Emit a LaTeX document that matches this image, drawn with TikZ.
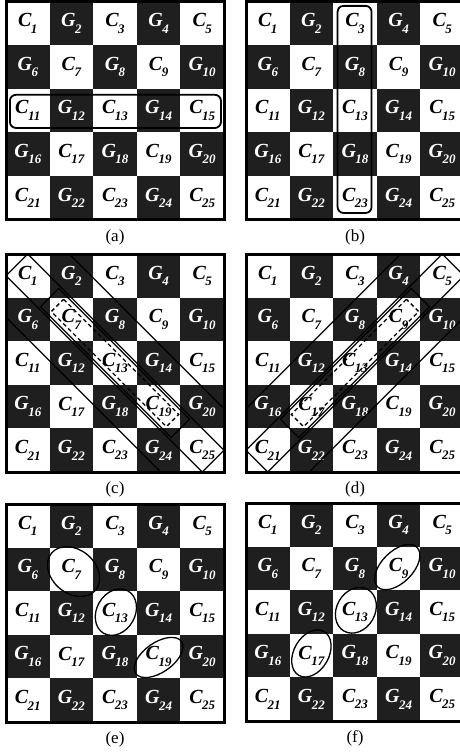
\documentclass[tikz,border=0pt]{standalone}
\usepackage{fontspec}
\setmainfont{Liberation Serif}
\newcommand\cellname[2]{{\bfseries\itshape #1\kern-.5pt\raisebox{-.32em}{\fontsize{13}{13}\selectfont #2}}}

\begin{document}
\begin{tikzpicture}[x=1pt, y=-1pt,
  every node/.style={font=\fontsize{20}{20}\selectfont, inner sep=0pt},
  gcell/.style={fill=black!88},
  clab/.style={text=black},
  glab/.style={text=white},
  boardframe/.style={draw=black, line width=3pt},
  ring/.style={draw=black, line width=1.3pt},
  dashring/.style={draw=black, line width=1.3pt, dash pattern=on 4pt off 3pt},
  box/.style={draw=black, line width=1.8pt, rounded corners=6pt},
  panel a/.style={shift={(6,1.5)}, x=43.6pt, y=-43.6pt},
  panel b/.style={shift={(246,1.5)}, x=43.6pt, y=-43.6pt},
  panel c/.style={shift={(6,254)}, x=43.6pt, y=-43.6pt},
  panel d/.style={shift={(246,254)}, x=43.6pt, y=-43.6pt},
  panel e/.style={shift={(6,504)}, x=43.6pt, y=-43.6pt},
  panel f/.style={shift={(246,503)}, x=43.6pt, y=-43.6pt}]
\useasboundingbox (0,0) rectangle (460,753);

% the six 5x5 boards
\foreach \p in {a,b,c,d,e,f}{
  \begin{scope}[panel \p]
  \foreach \r in {0,...,4}{
    \foreach \c in {0,...,4}{
      \pgfmathtruncatemacro\k{5*\r+\c+1}
      \pgfmathtruncatemacro\odd{mod(\r+\c,2)}
      \ifnum\odd=1
        \fill[gcell] (\c,\r) rectangle ++(1,1);
        \node[glab] (\p\k) at (\c+.5,\r+.5) {\cellname{G}{\k}};
      \else
        \node[clab] (\p\k) at (\c+.5,\r+.5) {\cellname{C}{\k}};
      \fi
    }
  }
  \draw[boardframe] (0,0) rectangle (5,5);
  \node[font=\fontsize{17}{17}\selectfont] (cap\p) at (2.5,5.4) {(\p)};
  \end{scope}
}

% (a) row, (b) column
\begin{scope}[panel a]
\draw[box] (0.09,2.14) rectangle (4.93,2.9);
\end{scope}
\begin{scope}[panel b]
\draw[box] (2.1,0.1) rectangle (2.88,4.85);
\end{scope}

% (c) main diagonal
\begin{scope}[panel c]
\draw[ring] (0.5,0) -- (5,4.5) -- (4.5,5) -- (0,0.5) -- cycle;
\draw[ring] (1.21,0.79) -- (4.21,3.79) -- (3.79,4.21) -- (0.79,1.21) -- cycle;
\draw[dashring] (1.32,1.04) -- (3.96,3.68) -- (3.68,3.96) -- (1.04,1.32) -- cycle;
\draw[ring] (1.45,0) -- (5,3.55);
\draw[ring] (0,1.45) -- (3.55,5);
\end{scope}

% (d) anti-diagonal
\begin{scope}[panel d]
\draw[ring] (4.5,0) -- (0,4.5) -- (0.5,5) -- (5,0.5) -- cycle;
\draw[ring] (3.79,0.79) -- (0.79,3.79) -- (1.21,4.21) -- (4.21,1.21) -- cycle;
\draw[dashring] (3.68,1.04) -- (1.04,3.68) -- (1.32,3.96) -- (3.96,1.32) -- cycle;
\draw[ring] (3.55,0) -- (0,3.55);
\draw[ring] (5,1.45) -- (1.45,5);
\end{scope}

% (e) and (f) single cells
\begin{scope}[panel e]
\draw[ring, rotate around={-40:(1.55,1.55)}] (1.55,1.55) ellipse [x radius=.66, y radius=.5];
\draw[ring, rotate around={60:(2.52,2.48)}] (2.52,2.48) ellipse [x radius=.56, y radius=.44];
\draw[ring, rotate around={35:(3.5,3.52)}] (3.5,3.52) ellipse [x radius=.64, y radius=.34];
\end{scope}
\begin{scope}[panel f]
\draw[ring, rotate around={45:(3.47,1.47)}] (3.47,1.47) ellipse [x radius=.64, y radius=.36];
\draw[ring, rotate around={60:(2.52,2.46)}] (2.52,2.46) ellipse [x radius=.55, y radius=.44];
\draw[ring, rotate around={60:(1.5,3.45)}] (1.5,3.45) ellipse [x radius=.58, y radius=.4];
\end{scope}
\end{tikzpicture}
\end{document}
